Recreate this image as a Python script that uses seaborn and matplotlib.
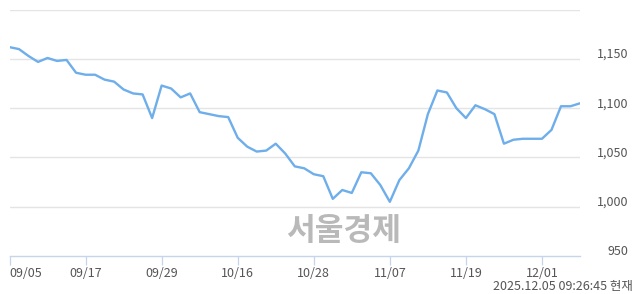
import matplotlib
matplotlib.use("Agg")
import matplotlib.pyplot as plt
from matplotlib.transforms import ScaledTranslation
import seaborn as sns
import pandas as pd

# ---- data ----
prices = [1162, 1160, 1153, 1147, 1151, 1148, 1149, 1136, 1134, 1134,
          1129, 1127, 1119, 1115, 1114, 1090, 1123, 1120, 1111, 1115,
          1096, 1094, 1092, 1091, 1070, 1061, 1056, 1057, 1064, 1054,
          1041, 1039, 1033, 1031, 1008, 1017, 1014, 1035, 1034, 1022,
          1005, 1027, 1039, 1057, 1094, 1118, 1116, 1100, 1090, 1103,
          1099, 1094, 1064, 1068, 1069, 1069, 1069, 1078, 1102, 1102, 1105]
tick_labels = ["09/05", "09/17", "09/29", "10/16", "10/28", "11/07", "11/19", "12/01"]
tick_positions = [0, 8, 16, 24, 32, 40, 48, 56]
y_ticks = [950, 1000, 1050, 1100, 1150]
y_tick_labels = ["950", "1,000", "1,050", "1,100", "1,150"]
grid_levels = [1000, 1050, 1100, 1150, 1200]
watermark = "서울경제"
timestamp = "2025.12.05 09:26:45 현재"

df = pd.DataFrame({"day": range(len(prices)), "price": prices})

sns.set_theme(style="white")
plt.rcParams["font.family"] = ["Noto Sans CJK KR", "DejaVu Sans"]

W, H = 640, 294
fig = plt.figure(figsize=(W / 100, H / 100), dpi=100)
left, right, top, bottom = 9.5, 580, 9.7, 256
ax = fig.add_axes([left / W, (H - bottom) / H, (right - left) / W, (bottom - top) / H])

for g in grid_levels:
    ax.axhline(g, color="#e4e4e4", lw=1.0, zorder=1)

sns.lineplot(data=df, x="day", y="price", ax=ax, color="#6eaeea", lw=1.7, zorder=3)

ax.set_xlim(0, len(prices) - 1)
ax.set_ylim(950, 1200)
ax.set_xlabel("")
ax.set_ylabel("")

for s in ["top", "left", "right"]:
    ax.spines[s].set_visible(False)
ax.spines["bottom"].set_color("#c6d5ea")
ax.spines["bottom"].set_linewidth(1.0)

ax.set_xticks(tick_positions)
ax.set_xticklabels(tick_labels, fontsize=9, color="#555555")
ax.tick_params(axis="x", direction="out", length=6.5, width=0.9, color="#c6d5ea", pad=1.5, bottom=True)
xl = ax.get_xticklabels()
xl[0].set_horizontalalignment("left")

ax.yaxis.tick_right()
ax.set_yticks(y_ticks)
ax.set_yticklabels(y_tick_labels, fontsize=9, color="#555555")
ax.tick_params(axis="y", length=0, pad=35, right=True, left=False)
off = ScaledTranslation(0, 6 / 100, fig.dpi_scale_trans)
for lab in ax.get_yticklabels():
    lab.set_horizontalalignment("right")
    lab.set_transform(lab.get_transform() + off)

fig.text(344 / W, 1 - 231 / H, watermark, fontsize=22.5, fontweight="bold",
         color="#b9b9b9", ha="center", va="center")
fig.text(633 / W, 1 - 286.5 / H, timestamp, fontsize=9, color="#555555",
         ha="right", va="center")

fig.savefig("out.png", dpi=100)
